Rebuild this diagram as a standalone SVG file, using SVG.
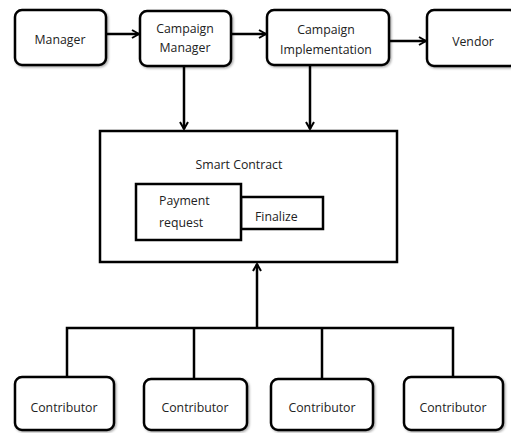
<svg xmlns="http://www.w3.org/2000/svg" width="511" height="433" viewBox="0 0 511 433">
<defs>
<marker id="arr" viewBox="0 0 10 10" refX="9" refY="5" markerWidth="10" markerHeight="10" markerUnits="userSpaceOnUse" orient="auto">
<polyline points="2,1 9,5 2,9" fill="none" stroke="#000" stroke-width="2"/>
</marker>
<filter id="sh" x="-10%" y="-10%" width="125%" height="125%">
<feDropShadow dx="1.2" dy="1.2" stdDeviation="0.8" flood-color="#000" flood-opacity="0.35"/>
</filter>
</defs>
<style>
.rb{fill:#fff;stroke:#000;stroke-width:2.5;filter:url(#sh)}
.sb{fill:#fff;stroke:#000;stroke-width:2.5}
.t{font-family:"Open Sans","Liberation Sans",sans-serif;font-size:12.3px;fill:#222;text-anchor:middle}
.tl{font-family:"Open Sans","Liberation Sans",sans-serif;font-size:12.3px;fill:#222}
.c{fill:none;stroke:#000;stroke-width:2.5}
</style>
<rect width="511" height="433" fill="#fff"/>
<g id="connectors">
<line class="c" x1="106" y1="34" x2="139" y2="34" marker-end="url(#arr)"/>
<line class="c" x1="231" y1="34" x2="266" y2="34" marker-end="url(#arr)"/>
<line class="c" x1="389" y1="41" x2="426" y2="41" marker-end="url(#arr)"/>
<line class="c" x1="184" y1="66" x2="184" y2="129" marker-end="url(#arr)"/>
<line class="c" x1="310" y1="65" x2="310" y2="129" marker-end="url(#arr)"/>
<polyline class="c" points="67,377 67,328 453,328 453,377"/>
<line class="c" x1="194" y1="328" x2="194" y2="379"/>
<line class="c" x1="322" y1="328" x2="322" y2="379"/>
<line class="c" x1="257" y1="328" x2="257" y2="264" marker-end="url(#arr)"/>
</g>
<g id="manager">
<rect class="rb" x="15" y="10" width="91" height="55" rx="7"/>
<text class="t" x="60" y="44">Manager</text>
</g>
<g id="campaign-manager">
<rect class="rb" x="140" y="11" width="91" height="55" rx="7"/>
<text class="t" x="185" y="33">Campaign</text>
<text class="t" x="185" y="52">Manager</text>
</g>
<g id="campaign-implementation">
<rect class="rb" x="267" y="10" width="122" height="55" rx="7"/>
<text class="t" x="326" y="34">Campaign</text>
<text class="t" x="326" y="54">Implementation</text>
</g>
<g id="vendor">
<rect class="rb" x="427" y="10" width="90" height="56" rx="7"/>
<text class="t" x="473" y="46">Vendor</text>
</g>
<g id="smart-contract">
<rect class="sb" x="100" y="131" width="297" height="131"/>
<text class="t" x="239" y="169">Smart Contract</text>
</g>
<g id="finalize">
<rect class="sb" x="241" y="197" width="82" height="32"/>
<text class="tl" x="255" y="221">Finalize</text>
</g>
<g id="payment-request">
<rect class="sb" x="136" y="184" width="105" height="56"/>
<text class="tl" x="159" y="205">Payment</text>
<text class="tl" x="159" y="227">request</text>
</g>
<g id="contributor-1">
<rect class="rb" x="15" y="377" width="99" height="53" rx="7"/>
<text class="t" x="64" y="412">Contributor</text>
</g>
<g id="contributor-2">
<rect class="rb" x="144" y="379" width="103" height="51" rx="7"/>
<text class="t" x="195" y="412">Contributor</text>
</g>
<g id="contributor-3">
<rect class="rb" x="271" y="379" width="102" height="51" rx="7"/>
<text class="t" x="322" y="412">Contributor</text>
</g>
<g id="contributor-4">
<rect class="rb" x="404" y="377" width="99" height="53" rx="7"/>
<text class="t" x="453" y="412">Contributor</text>
</g>
</svg>
